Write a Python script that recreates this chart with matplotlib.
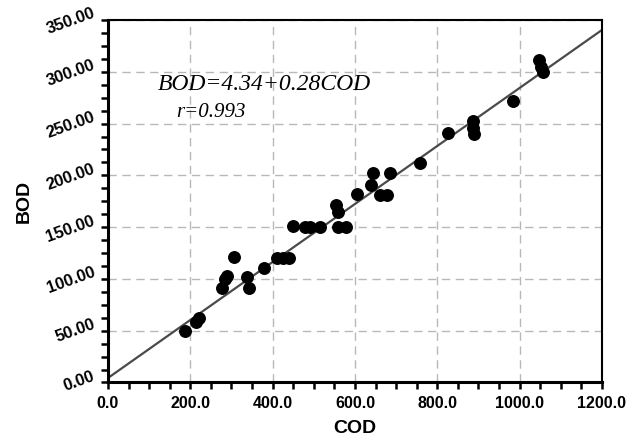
import numpy as np
import matplotlib
matplotlib.use('Agg')
import matplotlib.pyplot as plt
from matplotlib.ticker import MultipleLocator, FormatStrFormatter

# measured COD / BOD pairs (mg/L)
cod = [187, 215, 220, 277, 284, 290, 306, 338, 342, 379, 410, 425, 440,
       449, 478, 492, 515, 555, 558, 560, 578, 605, 640, 644, 662, 678,
       686, 757, 827, 888, 888, 890, 985, 1048, 1052, 1058]
bod = [50, 58, 62, 91, 100, 103, 121, 102, 91, 111, 120, 120, 120,
       151, 150, 150, 150, 171, 165, 150, 150, 182, 191, 202, 181, 181,
       202, 212, 241, 252, 246, 240, 272, 311, 305, 300]

# fitted regression
intercept = 4.34
slope = 0.28
r_value = 0.993

plt.rcParams['font.family'] = ['Liberation Sans', 'DejaVu Sans']

fig = plt.figure(figsize=(6.26, 4.46), dpi=100)
ax = fig.add_axes([0.1725, 0.1424, 0.789, 0.8128])

xfit = np.array([0, 1200])
ax.plot(xfit, intercept + slope * xfit, color='#4a4a4a', lw=1.6, zorder=2)
ax.plot(cod, bod, 'o', color='black', markersize=8.3, zorder=3)

ax.set_xlim(0, 1200)
ax.set_ylim(0, 350)
ax.xaxis.set_major_locator(MultipleLocator(200))
ax.xaxis.set_minor_locator(MultipleLocator(50))
ax.yaxis.set_major_locator(MultipleLocator(50))
ax.yaxis.set_minor_locator(MultipleLocator(12.5))
ax.xaxis.set_major_formatter(FormatStrFormatter('%.1f'))
ax.yaxis.set_major_formatter(FormatStrFormatter('%.2f'))

ax.grid(True, which='major', color='#b8b8b8', linestyle=(0, (6, 4)), lw=1.0)
ax.set_axisbelow(True)

for side in ['top', 'right']:
    ax.spines[side].set_linewidth(1.5)
for side in ['bottom', 'left']:
    ax.spines[side].set_linewidth(2.2)

ax.tick_params(which='both', direction='out', length=5, width=1.8, color='black')
ax.tick_params(axis='x', labelsize=11.5, pad=5)
ax.tick_params(axis='y', labelsize=12, pad=3)
for lab in ax.get_xticklabels():
    lab.set_fontweight('bold')
for lab in ax.get_yticklabels():
    lab.set_fontweight('bold')
    lab.set_rotation(20)
    lab.set_rotation_mode('anchor')
    lab.set_ha('right')
    lab.set_va('bottom')

ax.set_xlabel('COD', fontsize=14, fontweight='bold', labelpad=6)
ax.set_ylabel('BOD', fontsize=14, fontweight='bold', labelpad=8)

ax.text(120, 288, 'BOD=%.2f+%.2fCOD' % (intercept, slope), fontsize=17,
        family='Liberation Serif', style='italic', va='center')
ax.text(166, 261, 'r=%.3f' % r_value, fontsize=15,
        family='Liberation Serif', style='italic', va='center')

fig.savefig('out.png', dpi=100)
